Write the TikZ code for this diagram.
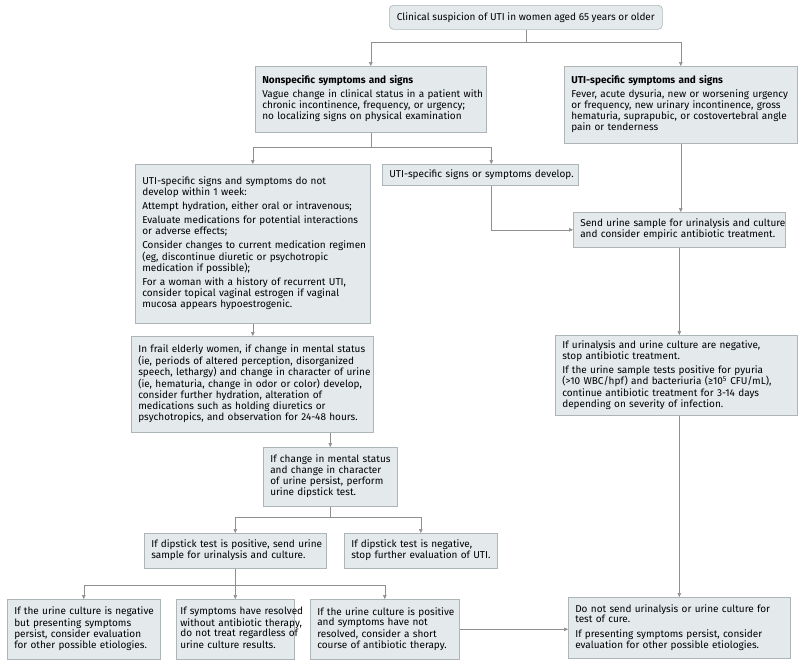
\documentclass[tikz,border=0pt]{standalone}
\usepackage{fontspec}
\setmainfont{Fira Sans}
\usetikzlibrary{arrows.meta,calc}
\definecolor{boxfill}{HTML}{E4E9EC}
\definecolor{boxline}{HTML}{AEB5B9}
\definecolor{linkgray}{HTML}{8F8F8F}
% keep the hand-made line breaks of a box
\newcommand{\lns}[1]{\begin{tabular}{@{}l@{}}#1\end{tabular}}

\begin{document}
\begin{tikzpicture}[
  x=1pt, y=-1pt,
  font=\fontsize{10}{10.9}\selectfont,
  stepbox/.style={draw=boxline, fill=boxfill, anchor=north west, align=left,
    inner xsep=7pt, inner ysep=3pt, line width=0.6pt},
  topbox/.style={stepbox, rounded corners=4pt, align=center},
  link/.style={draw=linkgray, line width=0.6pt},
  arr/.style={link, -{Triangle[length=4pt, width=3.6pt]}},
]
\useasboundingbox (0,0) rectangle (800,665);

% entry and first split
\node[topbox, minimum width=273pt, minimum height=24pt] (suspicion) at (389,5)
  {Clinical suspicion of UTI in women aged 65 years or older};
\node[stepbox, minimum width=231pt, text width=217pt, minimum height=66pt] (nonspec) at (255,66)
  {\lns{\textbf{Nonspecific symptoms and signs}\\[3pt]
   Vague change in clinical status in a patient with\\
   chronic incontinence, frequency, or urgency;\\
   no localizing signs on physical examination}};
\node[stepbox, minimum width=233pt, text width=219pt, minimum height=77pt] (utispec) at (564,66)
  {\lns{\textbf{UTI-specific symptoms and signs}\\[3pt]
   Fever, acute dysuria, new or worsening urgency\\
   or frequency, new urinary incontinence, gross\\
   hematuria, suprapubic, or costovertebral angle\\
   pain or tenderness}};
\coordinate (j1) at ($(suspicion.south)+(0,13)$);
\draw[link] (suspicion.south) -- (j1);
\draw[arr] (j1) -| (nonspec.north);
\draw[arr] (j1) -| (utispec.north);

% nonspecific branch
\node[stepbox, minimum width=235pt, text width=221pt, minimum height=159pt] (nodevelop) at (135,164)
  {\lns{UTI-specific signs and symptoms do not\\
   develop within 1 week:\\[3pt]
   Attempt hydration, either oral or intravenous;\\[3pt]
   Evaluate medications for potential interactions\\
   or adverse effects;\\[3pt]
   Consider changes to current medication regimen\\
   (eg, discontinue diuretic or psychotropic\\
   medication if possible);\\[3pt]
   For a woman with a history of recurrent UTI,\\
   consider topical vaginal estrogen if vaginal\\
   mucosa appears hypoestrogenic.}};
\node[stepbox, minimum width=196pt, text width=182pt, minimum height=21pt] (develop) at (382,164)
  {\lns{UTI-specific signs or symptoms develop.}};
\coordinate (j2) at ($(nonspec.south)+(0,15)$);
\draw[link] (nonspec.south) -- (j2);
\draw[arr] (j2) -| (nodevelop.north);
\draw[arr] (j2) -| ([xshift=11pt]develop.north);

% UTI-specific branch
\node[stepbox, minimum width=212pt, text width=198pt, minimum height=35pt] (send) at (573,212)
  {\lns{Send urine sample for urinalysis and culture\\
   and consider empiric antibiotic treatment.}};
\node[stepbox, minimum width=242pt, text width=228pt, minimum height=80pt] (result) at (555,335)
  {\lns{If urinalysis and urine culture are negative,\\
   stop antibiotic treatment.\\[3pt]
   If the urine sample tests positive for pyuria\\
   (>10 WBC/hpf) and bacteriuria (≥10\textsuperscript{5} CFU/mL),\\
   continue antibiotic treatment for 3-14 days\\
   depending on severity of infection.}};
\node[stepbox, minimum width=222pt, text width=208pt, minimum height=61pt] (cure) at (568,597)
  {\lns{Do not send urinalysis or urine culture for\\
   test of cure.\\[3pt]
   If presenting symptoms persist, consider\\
   evaluation for other possible etiologies.}};
\draw[arr] (utispec.south) -- (utispec.south |- send.north);
\draw[arr] ([xshift=11pt]develop.south) |- (send.west);
\draw[arr] (send.south) -- (send.south |- result.north);
\draw[arr] (send.south |- result.south) -- (send.south |- cure.north);

% frail elderly and dipstick
\node[stepbox, minimum width=242pt, text width=228pt, minimum height=96pt] (frail) at (131,336)
  {\lns{In frail elderly women, if change in mental status\\
   (ie, periods of altered perception, disorganized\\
   speech, lethargy) and change in character of urine\\
   (ie, hematuria, change in odor or color) develop,\\
   consider further hydration, alteration of\\
   medications such as holding diuretics or\\
   psychotropics, and observation for 24-48 hours.}};
\node[stepbox, minimum width=134pt, text width=120pt, minimum height=59pt] (dipstick) at (263,447)
  {\lns{If change in mental status\\
   and change in character\\
   of urine persist, perform\\
   urine dipstick test.}};
\draw[arr] (nodevelop.south) -- (nodevelop.south |- frail.north);
\draw[arr] (frail.south -| dipstick.north) -- (dipstick.north);

\node[stepbox, minimum width=182pt, text width=168pt, minimum height=35pt] (positive) at (144,533)
  {\lns{If dipstick test is positive, send urine\\
   sample for urinalysis and culture.}};
\node[stepbox, minimum width=153pt, text width=139pt, minimum height=35pt] (negative) at (344,533)
  {\lns{If dipstick test is negative,\\
   stop further evaluation of UTI.}};
\coordinate (j3) at ($(dipstick.south)+(0,11)$);
\draw[link] (dipstick.south) -- (j3);
\draw[arr] (j3) -| (positive.north);
\draw[arr] (j3) -| (negative.north);

% culture outcomes
\node[stepbox, minimum width=153pt, text width=139pt, minimum height=60pt] (cultneg) at (7,599)
  {\lns{If the urine culture is negative\\
   but presenting symptoms\\
   persist, consider evaluation\\
   for other possible etiologies.}};
\node[stepbox, inner xsep=4pt, minimum width=118pt, text width=110pt, minimum height=60pt] (resolved) at (176,599)
  {\lns{If symptoms have resolved\\
   without antibiotic therapy,\\
   do not treat regardless of\\
   urine culture results.}};
\node[stepbox, minimum width=149pt, text width=135pt, minimum height=60pt] (cultpos) at (310,599)
  {\lns{If the urine culture is positive\\
   and symptoms have not\\
   resolved, consider a short\\
   course of antibiotic therapy.}};
\coordinate (j4) at ($(positive.south)+(0,17)$);
\draw[link] (positive.south) -- (j4);
\draw[arr] (j4) -| (cultneg.north);
\draw[arr] (j4) -- (resolved.north);
\draw[arr] (j4) -| (cultpos.north);
\draw[arr] (cultpos.east) -- (cultpos.east -| cure.west);
\end{tikzpicture}
\end{document}
